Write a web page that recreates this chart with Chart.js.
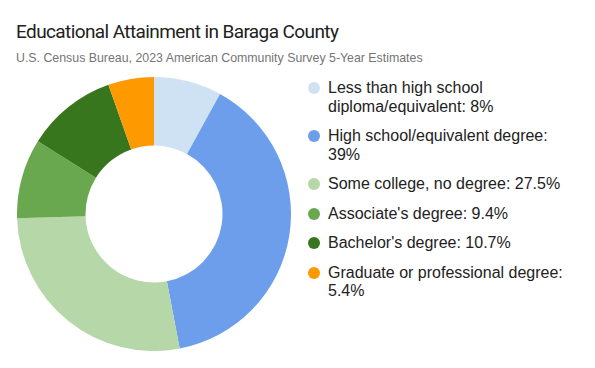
<!DOCTYPE html>
<html>
<head>
<meta charset="utf-8">
<script src="https://cdn.jsdelivr.net/npm/chart.js@4.4.1/dist/chart.umd.min.js"></script>
<style>
  body { margin: 0; background: #fff; }
  #wrap { position: relative; width: 595px; height: 368px; overflow: hidden; }
  #title { position: absolute; left: 16px; top: 20px; font-family: Roboto, sans-serif; font-size: 19px; letter-spacing: -0.6px; color: #212121; white-space: nowrap; }
  #subtitle { position: absolute; left: 16px; top: 50px; font-family: "Liberation Sans", Arial, sans-serif; font-size: 13px; color: #757575; white-space: nowrap; transform: scaleX(0.95); transform-origin: left center; }
  #chart { position: absolute; left: 17px; top: 77px; }
  #legend { position: absolute; left: 308px; top: 79px; width: 262px; list-style: none; margin: 0; padding: 0; }
  #legend li { position: relative; padding-left: 20px; font-family: "Liberation Sans", Arial, sans-serif; font-size: 16px; line-height: 18.5px; color: #222; margin-bottom: 11px; }
  #legend li span { position: absolute; left: 0; top: 3px; width: 12px; height: 12px; border-radius: 50%; }
</style>
</head>
<body>
<div id="wrap">
  <div id="title">Educational Attainment in Baraga County</div>
  <div id="subtitle">U.S. Census Bureau, 2023 American Community Survey 5-Year Estimates</div>
  <canvas id="chart" width="274" height="274"></canvas>
  <ul id="legend"></ul>
</div>
<script>
    "use strict";

    var categories = [
        "Less than high school diploma/equivalent",
        "High school/equivalent degree",
        "Some college, no degree",
        "Associate's degree",
        "Bachelor's degree",
        "Graduate or professional degree"
    ];
    var shares = [8, 39, 27.5, 9.4, 10.7, 5.4];
    var colors = ["#cfe2f3", "#6d9eeb", "#b6d7a8", "#6aa84f", "#38761d", "#ff9900"];

    // Legend
    var legend = document.getElementById("legend");
    categories.forEach(function (name, i) {
        var li = document.createElement("li");
        var dot = document.createElement("span");
        dot.style.background = colors[i];
        li.appendChild(dot);
        li.appendChild(document.createTextNode(name + ": " + shares[i] + "%"));
        legend.appendChild(li);
    });

    // Doughnut
    var ctx = document.getElementById("chart").getContext("2d");
    var myChart = new Chart(ctx, {
        type: "doughnut",
        data: {
            labels: categories,
            datasets: [{
                data: shares,
                backgroundColor: colors,
                borderWidth: 0
            }]
        },
        options: {
            responsive: false,
            animation: false,
            cutout: "50%",
            layout: { padding: 0 },
            plugins: {
                legend: { display: false },
                tooltip: { enabled: false }
            }
        }
    });
</script>
</body>
</html>
